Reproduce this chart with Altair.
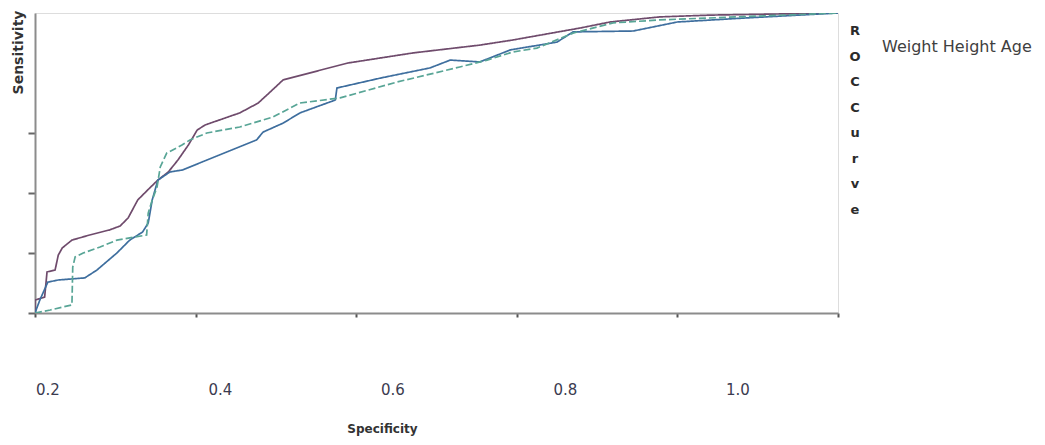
import altair as alt
import pandas as pd

# ROC curves (x = 1 - specificity position, y = sensitivity)
series_names = ["Weight", "Height", "Age"]

weight_x = [0.0, 0.0, 0.012, 0.015, 0.025, 0.029, 0.034, 0.046, 0.068, 0.093, 0.106, 0.116, 0.128,
            0.143, 0.153, 0.166, 0.178, 0.191, 0.202, 0.212, 0.255, 0.278, 0.293, 0.309, 0.389,
            0.471, 0.554, 0.595, 0.679, 0.716, 0.778, 0.841, 1.0]
weight_y = [0.0, 0.043, 0.053, 0.137, 0.143, 0.193, 0.217, 0.243, 0.260, 0.277, 0.290, 0.317, 0.377,
            0.417, 0.443, 0.470, 0.510, 0.560, 0.610, 0.627, 0.667, 0.700, 0.737, 0.777, 0.833,
            0.867, 0.893, 0.910, 0.950, 0.970, 0.987, 0.993, 1.0]

height_x = [0.0, 0.006, 0.016, 0.029, 0.062, 0.077, 0.102, 0.118, 0.134, 0.141, 0.146, 0.153, 0.168,
            0.184, 0.205, 0.276, 0.284, 0.309, 0.330, 0.374, 0.376, 0.430, 0.492, 0.517, 0.554,
            0.592, 0.650, 0.670, 0.745, 0.800, 0.882, 1.0]
height_y = [0.0, 0.043, 0.103, 0.110, 0.117, 0.143, 0.200, 0.243, 0.270, 0.300, 0.377, 0.443, 0.470,
            0.477, 0.500, 0.577, 0.603, 0.633, 0.667, 0.710, 0.750, 0.783, 0.817, 0.843, 0.837,
            0.877, 0.903, 0.937, 0.940, 0.970, 0.983, 1.0]

age_x = [0.0, 0.019, 0.046, 0.047, 0.050, 0.060, 0.081, 0.102, 0.139, 0.141, 0.146, 0.152, 0.156,
         0.164, 0.183, 0.193, 0.214, 0.255, 0.296, 0.330, 0.380, 0.451, 0.529, 0.563, 0.595,
         0.625, 0.670, 0.720, 0.778, 1.0]
age_y = [0.0, 0.010, 0.027, 0.153, 0.187, 0.200, 0.220, 0.243, 0.260, 0.333, 0.377, 0.420, 0.487,
         0.533, 0.560, 0.577, 0.600, 0.620, 0.653, 0.700, 0.717, 0.770, 0.820, 0.843, 0.870,
         0.883, 0.933, 0.967, 0.977, 1.0]

series_colors = ["#6f4b6c", "#3e6e9e", "#58a596"]
series_dash = [[1, 0], [1, 0], [7, 3]]

tick_values = [0.0, 0.2, 0.4, 0.6, 0.8, 1.0]
y_tick_values = [0.0, 0.2, 0.4, 0.6]
label_values = [0.2, 0.4, 0.6, 0.8, 1.0]
label_texts = ["0.2", "0.4", "0.6", "0.8", "1.0"]
side_title = ["R", "O", "C", "C", "u", "r", "v", "e"]
legend_text = "Weight Height Age"

rows = []
for name, xs, ys in [("Weight", weight_x, weight_y), ("Height", height_x, height_y), ("Age", age_x, age_y)]:
    for i, (a, b) in enumerate(zip(xs, ys)):
        rows.append({"series": name, "fpr": a, "tpr": b, "idx": i})
df = pd.DataFrame(rows)

FONT = "DejaVu Sans"

curves = alt.Chart(df).mark_line(strokeWidth=1.7, clip=True).encode(
    x=alt.X("fpr:Q", scale=alt.Scale(domain=[0, 1], nice=False, zero=False),
            axis=alt.Axis(values=tick_values, labels=False, ticks=True, tickSize=4, tickWidth=2,
                          tickColor="#555555", domainColor="#8c8c8c", domainWidth=2, grid=False,
                          title="Specificity", titleFont=FONT, titleFontSize=12, titleFontWeight="bold",
                          titleColor="#333333", titleX=347, titleY=119, titleAlign="center",
                          titleBaseline="alphabetic")),
    y=alt.Y("tpr:Q", scale=alt.Scale(domain=[0, 1], nice=False),
            axis=alt.Axis(values=y_tick_values, labels=False, ticks=True, tickSize=7, tickWidth=2,
                          tickColor="#666666", domainColor="#8c8c8c", domainWidth=2, grid=False,
                          title="Sensitivity", titleFont=FONT, titleFontSize=14, titleFontWeight="bold",
                          titleColor="#333333", titleAngle=270, titleAlign="right",
                          titleBaseline="middle", titleX=-17, titleY=-3)),
    color=alt.Color("series:N", scale=alt.Scale(domain=series_names, range=series_colors), legend=None),
    strokeDash=alt.StrokeDash("series:N", scale=alt.Scale(domain=series_names, range=series_dash), legend=None),
    order=alt.Order("idx:Q"),
)

lab_df = pd.DataFrame({"v": label_values, "t": label_texts})
labels = alt.Chart(lab_df).mark_text(font=FONT, fontSize=15, color="#3b3b4f", baseline="middle",
                                     align="center").encode(
    x=alt.X("v:Q", scale=alt.Scale(domain=[0.185, 1.116], nice=False, zero=False), axis=None),
    y=alt.value(377),
    text="t:N",
)

one = pd.DataFrame({"a": [0]})
roc_title = alt.Chart(one).mark_text(text=side_title, lineHeight=25.5, font=FONT, fontSize=13,
                                     fontWeight="bold", baseline="top", align="center",
                                     color="#2b2b2b").encode(
    x=alt.value(820), y=alt.value(12))

legend = alt.Chart(one).mark_text(text=legend_text, font=FONT, fontSize=16, align="left",
                                  baseline="middle", color="#404040").encode(
    x=alt.value(847), y=alt.value(34))

chart = alt.layer(curves, labels, roc_title, legend).resolve_scale(x="independent").properties(
    width=803, height=300, autosize="none",
    padding={"left": 27, "top": 5, "right": 199, "bottom": 124},
).configure_view(stroke="#808080", strokeWidth=2).configure(background="white")

chart.save("out.html", embed_options={"renderer": "svg", "actions": False})
